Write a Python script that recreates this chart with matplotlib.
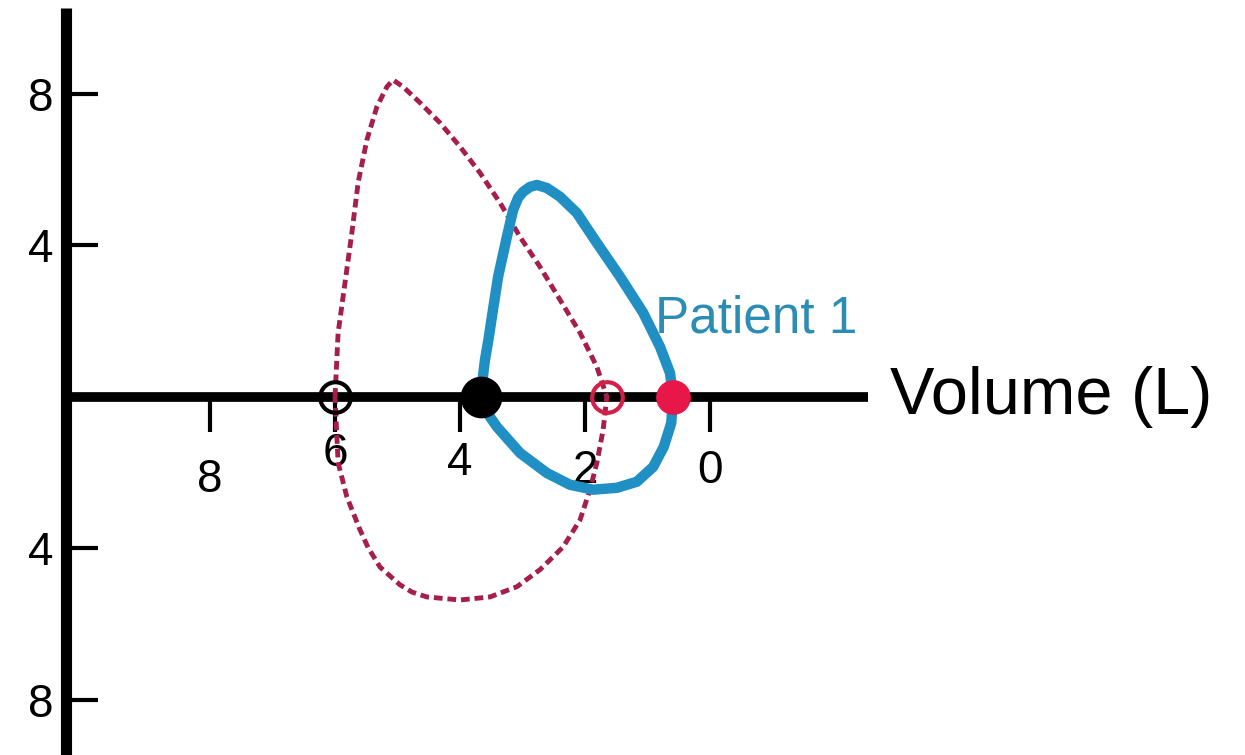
import numpy as np
from matplotlib import pyplot as plt
from matplotlib.transforms import ScaledTranslation

# normal flow-volume loop (dashed), volume in L, flow in L/s
normal_vol = [6.00, 5.95, 5.84, 5.73, 5.63, 5.49, 5.33, 5.17, 5.07, 4.91, 4.64, 4.32,
              4.00, 3.68, 3.36, 3.04, 2.72, 2.40, 2.08, 1.81, 1.65,
              1.71, 1.81, 1.92, 2.08, 2.35, 2.72, 3.09, 3.52, 4.00, 4.53, 4.77, 4.96,
              5.28, 5.47, 5.60, 5.81, 5.95, 6.00]
normal_flow = [0.00, 1.69, 3.01, 4.33, 5.65, 6.78, 7.65, 8.18, 8.36, 8.18, 7.76, 7.23,
               6.60, 5.91, 5.12, 4.22, 3.43, 2.56, 1.69, 0.79, 0.00,
               -0.87, -1.74, -2.45, -3.25, -3.96, -4.56, -5.01, -5.28, -5.36, -5.28, -5.15, -4.96,
               -4.49, -3.98, -3.51, -2.64, -1.74, 0.00]

# patient 1 loop (solid)
patient_vol = [3.66, 3.63, 3.60, 3.54, 3.49, 3.39, 3.25, 3.15, 3.07, 2.99, 2.88, 2.77,
               2.61, 2.40, 2.13, 1.81, 1.44, 1.07, 0.80, 0.64, 0.59,
               0.62, 0.74, 0.91, 1.17, 1.49, 1.87, 2.24, 2.61, 3.04, 3.41, 3.60, 3.66]
patient_flow = [0.00, 0.58, 0.98, 1.56, 2.11, 3.17, 4.22, 4.93, 5.25, 5.41, 5.54, 5.59,
                5.51, 5.28, 4.85, 4.06, 3.17, 2.22, 1.32, 0.63, 0.00,
                -0.69, -1.32, -1.85, -2.24, -2.40, -2.45, -2.32, -2.01, -1.48, -0.79, -0.34, 0.00]

# lung volumes marked on the axis
normal_tlc, normal_rv = 6.00, 1.65
patient_tlc, patient_rv = 3.66, 0.59

x_ticks = [8, 6, 4, 2, 0]
x_ticklabels = ["8", "6", "4", "2", "0"]
x_label_shift = [-12, 7, 0.5, -5.5, -5.5]   # hand-placed labels sit unevenly (pt)
y_ticks = [8, 4, -4, -8]
y_ticklabels = ["8", "4", "4", "8"]

BLUE = "#1f8fc4"
DASH = "#a51e4e"
RED = "#e8174a"

plt.rcParams["font.family"] = ["Liberation Sans", "DejaVu Sans"]

fig = plt.figure(figsize=(12.45, 7.55), dpi=100)
ax = fig.add_axes([0, 0, 1, 1])
ax.set_xlim(11.36, -8.56)
ax.set_ylim(-9.45, 10.47)

for side in ["top", "right"]:
    ax.spines[side].set_visible(False)
ax.spines["left"].set_position(("data", 10.3))
ax.spines["left"].set_bounds(-9.6, 10.26)
ax.spines["left"].set_linewidth(8)
ax.spines["bottom"].set_position(("data", 0))
ax.spines["bottom"].set_bounds(-2.53, 10.3)
ax.spines["bottom"].set_linewidth(7)
for sp in ax.spines.values():
    sp.set_capstyle("butt")

ax.set_xticks(x_ticks, x_ticklabels)
ax.set_yticks(y_ticks, y_ticklabels)
ax.tick_params(axis="x", direction="out", length=25, width=3, pad=7, labelsize=33)
ax.tick_params(axis="y", direction="in", length=23, width=3, pad=9, labelsize=33)
ax.patch.set_visible(False)

for lab, dy in zip(ax.get_xticklabels(), x_label_shift):
    lab.set_transform(lab.get_transform() + ScaledTranslation(0, dy / 72, fig.dpi_scale_trans))

ax.plot(normal_vol, normal_flow, color=DASH, lw=3.5, linestyle=(0, (1.8, 1.0)),
        zorder=3)
ax.plot(patient_vol, patient_flow, color=BLUE, lw=7.5, solid_joinstyle="round",
        solid_capstyle="round", zorder=4)

ax.plot([normal_tlc], [0], "o", ms=22, mfc="none", mec="black", mew=3, zorder=5)
ax.plot([normal_rv], [0], "o", ms=22, mfc="none", mec="#d41f48", mew=3, zorder=5)
ax.plot([patient_tlc], [0], "o", ms=29, color="black", zorder=5)
ax.plot([patient_rv], [0], "o", ms=24, color=RED, zorder=5)

ax.text(0.88, 2.05, "Patient 1", color="#2b8db3", fontsize=37, ha="left", va="center")
ax.text(-2.88, 0, "Volume (L)", color="black", fontsize=48, ha="left", va="center")

fig.savefig("out.png", dpi=100)
